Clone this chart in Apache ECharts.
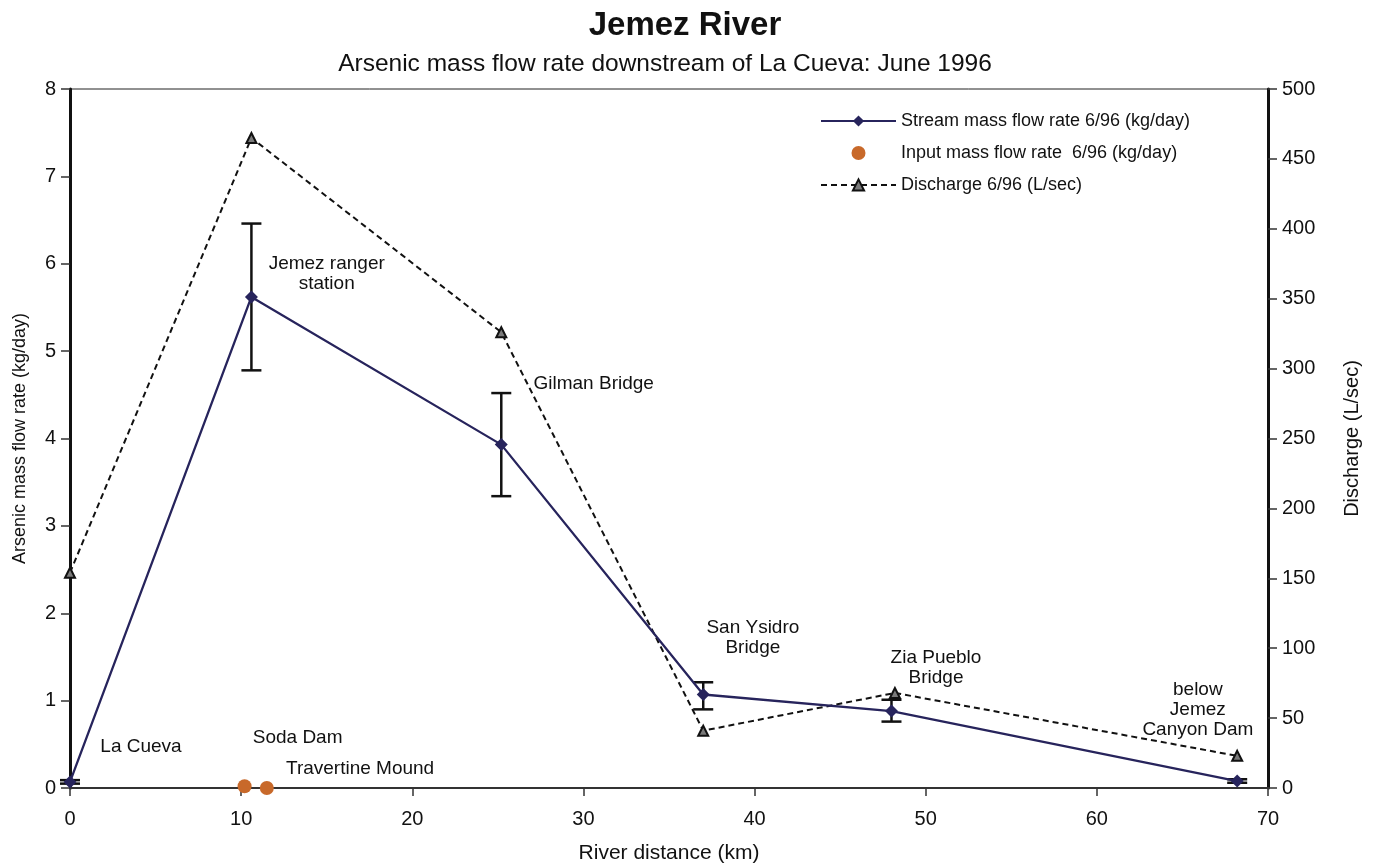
<!DOCTYPE html>
<html>
<head>
<meta charset="utf-8">
<script src="https://cdn.jsdelivr.net/npm/echarts@6/dist/echarts.min.js"></script>
<style>
  html, body { margin: 0; padding: 0; background: #fff; }
  #chart { width: 1373px; height: 863px; }
</style>
</head>
<body>
<div id="chart"></div>
<script>
// River distance (km) and measured values along the Jemez River, June 1996
const streamDistance = [0, 10.6, 25.2, 37, 48, 68.2];
const streamMassFlow = [0.07, 5.62, 3.93, 1.07, 0.88, 0.08];       // kg/day
const streamLow      = [0.05, 4.78, 3.34, 0.90, 0.76, 0.06];       // error bar lower
const streamHigh     = [0.09, 6.46, 4.52, 1.21, 1.01, 0.10];       // error bar upper

const inputDistance = [10.2, 11.5];
const inputMassFlow = [0.02, 0.0];                                 // kg/day

const dischargeDistance = [0, 10.6, 25.2, 37, 48.2, 68.2];
const dischargeValues   = [154, 465, 326, 41, 68, 23];             // L/sec

const siteNames = ['La Cueva', 'Soda Dam', 'Travertine Mound', 'Jemez ranger\nstation',
                   'Gilman Bridge', 'San Ysidro\nBridge', 'Zia Pueblo\nBridge',
                   'below\nJemez\nCanyon Dam'];
const siteLabelX = [4.15, 13.3, 16.95, 15.0, 30.6, 39.9, 50.6, 65.9];
const siteLabelY = [0.47, 0.57, 0.22, 5.88, 4.63, 1.72, 1.38, 0.89];

const xTicks = { min: 0, max: 70, interval: 10 };
const leftTicks = { min: 0, max: 8, interval: 1 };
const rightTicks = { min: 0, max: 500, interval: 50 };

const FONT = '"Liberation Sans", Arial, Helvetica, sans-serif';
const NAVY = '#27245c';
const ORANGE = '#c8692a';

const zip = (xs, ys) => xs.map((x, i) => [x, ys[i]]);

const chart = echarts.init(document.getElementById('chart'), null, { renderer: 'canvas' });

chart.setOption({
  animation: false,
  backgroundColor: '#fff',
  textStyle: { fontFamily: FONT, color: '#111' },
  title: [
    { text: 'Jemez River', left: 680, top: 4, textAlign: 'center',
      textStyle: { fontFamily: FONT, fontSize: 33, fontWeight: 'bold', color: '#111' } },
    { text: 'Arsenic mass flow rate downstream of La Cueva: June 1996', left: 660, top: 47, textAlign: 'center',
      textStyle: { fontFamily: FONT, fontSize: 24.5, fontWeight: 'normal', color: '#111' } }
  ],
  legend: {
    orient: 'vertical',
    left: 815, top: 107,
    itemWidth: 75, itemHeight: 14, itemGap: 14,
    textStyle: { fontFamily: FONT, fontSize: 18, color: '#111' },
    data: [
      { name: 'Stream mass flow rate 6/96 (kg/day)' },
      { name: 'Input mass flow rate  6/96 (kg/day)' },
      { name: 'Discharge 6/96 (L/sec)' }
    ]
  },
  grid: {
    left: 70, right: 105, top: 89, bottom: 75,
    outerBoundsMode: 'none', containLabel: false,
    show: true, borderColor: '#222', borderWidth: 1, backgroundColor: 'transparent'
  },
  xAxis: {
    type: 'value', min: xTicks.min, max: xTicks.max, interval: xTicks.interval,
    name: 'River distance (km)', nameLocation: 'middle', nameGap: 55,
    nameTextStyle: { fontFamily: FONT, fontSize: 21, color: '#111' },
    axisLine: { show: true, onZero: false, lineStyle: { color: '#333', width: 2 } },
    axisTick: { show: true, length: 8, lineStyle: { color: '#333', width: 1.5 } },
    axisLabel: { fontFamily: FONT, fontSize: 20, color: '#111', margin: 21 },
    splitLine: { show: false }
  },
  yAxis: [
    {
      type: 'value', min: leftTicks.min, max: leftTicks.max, interval: leftTicks.interval,
      name: 'Arsenic mass flow rate (kg/day)', nameLocation: 'middle', nameGap: 41,
      nameTextStyle: { fontFamily: FONT, fontSize: 18, color: '#111' },
      axisLine: { show: true, onZero: false, lineStyle: { color: '#111', width: 3 } },
      axisTick: { show: true, length: 9, lineStyle: { color: '#333', width: 1.5 } },
      axisLabel: { fontFamily: FONT, fontSize: 20, color: '#111', margin: 14 },
      splitLine: { show: false }
    },
    {
      type: 'value', position: 'right', min: rightTicks.min, max: rightTicks.max, interval: rightTicks.interval,
      name: 'Discharge (L/sec)', nameLocation: 'middle', nameGap: 74, nameRotate: 90,
      nameTextStyle: { fontFamily: FONT, fontSize: 20, color: '#111' },
      axisLine: { show: true, onZero: false, lineStyle: { color: '#111', width: 3 } },
      axisTick: { show: true, length: 9, lineStyle: { color: '#333', width: 1.5 } },
      axisLabel: { fontFamily: FONT, fontSize: 20, color: '#111', margin: 14 },
      splitLine: { show: false }
    }
  ],
  series: [
    {
      name: 'Discharge 6/96 (L/sec)',
      type: 'line', yAxisIndex: 1, z: 3,
      data: zip(dischargeDistance, dischargeValues),
      symbol: 'triangle', symbolSize: 10,
      itemStyle: { color: '#7a7a7a', borderColor: '#111', borderWidth: 2 },
      lineStyle: { color: '#111', width: 2, type: [6, 4] }
    },
    {
      name: 'stream-error',
      type: 'custom', z: 4, silent: true,
      data: streamDistance.map((x, i) => [x, streamLow[i], streamHigh[i]]),
      encode: { x: 0, y: [1, 2] },
      renderItem: function (params, api) {
        const x = api.value(0);
        const lo = api.coord([x, api.value(1)]);
        const hi = api.coord([x, api.value(2)]);
        const half = 10;
        const style = { stroke: '#111', lineWidth: 2.5, fill: null };
        return {
          type: 'group',
          children: [
            { type: 'line', shape: { x1: lo[0], y1: lo[1], x2: hi[0], y2: hi[1] }, style },
            { type: 'line', shape: { x1: lo[0] - half, y1: lo[1], x2: lo[0] + half, y2: lo[1] }, style },
            { type: 'line', shape: { x1: hi[0] - half, y1: hi[1], x2: hi[0] + half, y2: hi[1] }, style }
          ]
        };
      }
    },
    {
      name: 'Stream mass flow rate 6/96 (kg/day)',
      type: 'line', z: 5,
      data: zip(streamDistance, streamMassFlow),
      symbol: 'diamond', symbolSize: 13,
      itemStyle: { color: NAVY },
      lineStyle: { color: NAVY, width: 2.3 }
    },
    {
      name: 'Input mass flow rate  6/96 (kg/day)',
      type: 'scatter', z: 6,
      data: zip(inputDistance, inputMassFlow),
      symbol: 'circle', symbolSize: 14,
      itemStyle: { color: ORANGE, opacity: 1 }
    },
    {
      name: 'site-labels',
      type: 'scatter', z: 7, silent: true,
      symbolSize: 0,
      itemStyle: { color: '#111', opacity: 1 },
      data: siteNames.map((n, i) => ({ value: [siteLabelX[i], siteLabelY[i]], name: n })),
      label: {
        show: true, position: 'inside', formatter: p => p.name,
        fontFamily: FONT, fontSize: 19, color: '#111', lineHeight: 20, align: 'center',
        textBorderWidth: 0, opacity: 1
      }
    }
  ]
});
</script>
</body>
</html>
